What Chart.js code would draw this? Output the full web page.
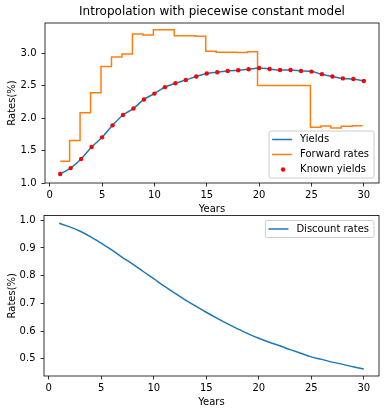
<!DOCTYPE html>
<html>
<head>
<meta charset="utf-8">
<script src="https://cdn.jsdelivr.net/npm/chart.js@4"></script>
<style>
  body { margin: 0; background: #fff; }
  canvas { display: block; }
</style>
</head>
<body>
<canvas id="top" width="386" height="214"></canvas>
<canvas id="bottom" width="386" height="200"></canvas>
<script>
// ---- data ----
const years = [1, 2, 3, 4, 5, 6, 7, 8, 9, 10, 11, 12, 13, 14, 15,
               16, 17, 18, 19, 20, 21, 22, 23, 24, 25, 26, 27, 28, 29, 30];
const yields = [1.14, 1.23, 1.37, 1.555, 1.705, 1.89, 2.05, 2.15, 2.29, 2.38,
                2.48, 2.54, 2.59, 2.645, 2.69, 2.71, 2.73, 2.74, 2.755, 2.775,
                2.76, 2.745, 2.745, 2.73, 2.72, 2.68, 2.645, 2.615, 2.605, 2.575];
// forward rates: start of each flat piece and its level
const fwdStart = [1, 1.9, 2.9, 3.9, 4.9, 5.9, 6.9, 7.9, 8.9, 9.9, 11.9, 13.9,
                  14.9, 15.9, 17.9, 18.9, 19.85, 24.9, 25.9, 26.85, 27.85, 28.9, 29.9];
const fwdRate  = [1.335, 1.655, 2.085, 2.395, 2.80, 2.945, 2.99, 3.30, 3.285, 3.365, 3.275, 3.265,
                  3.035, 3.02, 3.015, 3.025, 2.505, 1.86, 1.88, 1.85, 1.875, 1.885, 1.885];
const discount = [0.989, 0.976, 0.960, 0.940, 0.917, 0.893, 0.866, 0.842, 0.815, 0.789,
                  0.762, 0.737, 0.713, 0.690, 0.668, 0.647, 0.627, 0.608, 0.590, 0.574,
                  0.560, 0.547, 0.533, 0.520, 0.507, 0.498, 0.488, 0.480, 0.471, 0.463];
const xTicks = [0, 5, 10, 15, 20, 25, 30];
const yTicksTop = [1.0, 1.5, 2.0, 2.5, 3.0];
const yTicksBottom = [0.5, 0.6, 0.7, 0.8, 0.9, 1.0];

const BLUE = '#1f77b4', ORANGE = '#ff7f0e', RED = '#ff0000';
const FONT = 'DejaVu Sans';

Chart.defaults.font.family = FONT;
Chart.defaults.font.size = 10;
Chart.defaults.color = '#000';

const pts = (xs, ys) => xs.map((x, i) => ({ x, y: ys[i] }));

// matplotlib-like box around the axes
const frame = {
  id: 'frame',
  afterDatasetsDraw(chart) {
    const { ctx, chartArea: a } = chart;
    ctx.save();
    ctx.strokeStyle = '#000';
    ctx.lineWidth = 0.8;
    ctx.strokeRect(a.left, a.top, a.right - a.left, a.bottom - a.top);
    ctx.restore();
  }
};

// legend box inside the axes, drawn from the dataset labels
const boxLegend = {
  id: 'boxLegend',
  afterDatasetsDraw(chart, args, opts) {
    const { ctx, chartArea: a } = chart;
    const sets = opts.order.map(i => chart.data.datasets[i]);
    ctx.save();
    ctx.font = '10px ' + FONT;
    const tw = Math.max(...sets.map(d => ctx.measureText(d.label).width));
    const w = 4 + 20 + 8 + tw + 4, h = 8 + 9 + (sets.length - 1) * 15;
    const x = a.right - 5 - w;
    const y = opts.where === 'lower' ? a.bottom - 5 - h : a.top + 5;
    ctx.beginPath();
    ctx.roundRect(x, y, w, h, 2);
    ctx.fillStyle = 'rgba(255,255,255,0.8)';
    ctx.fill();
    ctx.strokeStyle = '#cccccc';
    ctx.lineWidth = 1;
    ctx.stroke();
    sets.forEach((d, i) => {
      const cy = y + 8.5 + i * 15;
      if (d.showLine === false) {
        ctx.beginPath();
        ctx.arc(x + 14, cy, 2.2, 0, Math.PI * 2);
        ctx.fillStyle = d.pointBackgroundColor;
        ctx.fill();
      } else {
        ctx.beginPath();
        ctx.moveTo(x + 3, cy);
        ctx.lineTo(x + 23, cy);
        ctx.strokeStyle = d.borderColor;
        ctx.lineWidth = 1.5;
        ctx.stroke();
      }
      ctx.fillStyle = '#000';
      ctx.textBaseline = 'middle';
      ctx.fillText(d.label, x + 31, cy);
    });
    ctx.restore();
  }
};

function scales(yMin, yMax, yTicks, axisW, xAxisH, xTitlePad) {
  const grid = { drawOnChartArea: false, drawTicks: true, tickLength: 3.5, color: '#000', lineWidth: 0.8 };
  return {
    x: {
      type: 'linear', min: -0.45, max: 31.45,
      border: { display: false },
      grid,
      afterBuildTicks: s => { s.ticks = xTicks.map(v => ({ value: v })); },
      ticks: { padding: 3, maxRotation: 0, callback: v => String(v) },
      title: { display: true, text: 'Years', font: { size: 10, lineHeight: 1 }, padding: { top: 0, bottom: xTitlePad } },
      afterFit: s => { s.height = xAxisH; s.paddingLeft = s.paddingRight = 0; }
    },
    y: {
      min: yMin, max: yMax,
      border: { display: false },
      grid,
      afterBuildTicks: s => { s.ticks = yTicks.map(v => ({ value: v })); },
      ticks: { padding: 5, callback: v => v.toFixed(1) },
      title: { display: true, text: 'Rates(%)', font: { size: 10, lineHeight: 1 }, padding: { top: 7, bottom: 0 } },
      afterFit: s => { s.width = axisW; s.paddingTop = s.paddingBottom = 0; }
    }
  };
}

new Chart(document.getElementById('top'), {
  type: 'line',
  data: {
    datasets: [
      { label: 'Yields', data: pts(years, yields), borderColor: BLUE, borderWidth: 1.5,
        pointRadius: 0, cubicInterpolationMode: 'monotone', order: 1 },
      { label: 'Forward rates', data: pts(fwdStart, fwdRate), borderColor: ORANGE, borderWidth: 1.5,
        pointRadius: 0, stepped: true, order: 2 },
      { label: 'Known yields', data: pts(years, yields), showLine: false,
        pointRadius: 2.2, pointBorderWidth: 0, pointBackgroundColor: RED, pointBorderColor: RED, order: 0 }
    ]
  },
  options: {
    responsive: false, animation: false, devicePixelRatio: 1,
    layout: { padding: { left: 0, right: 7, top: 0, bottom: 0 } },
    plugins: {
      legend: { display: false },
      tooltip: { enabled: false },
      title: { display: true, fullSize: false, text: 'Intropolation with piecewise constant model',
               color: '#000', font: { size: 12, weight: 'normal', lineHeight: 1.2 }, padding: { top: 5, bottom: 3.6 } },
      boxLegend: { order: [0, 1, 2], where: 'lower' }
    },
    scales: scales(1.0, 3.47, yTicksTop, 45, 31, 0)
  },
  plugins: [frame, boxLegend]
});

new Chart(document.getElementById('bottom'), {
  type: 'line',
  data: {
    datasets: [
      { label: 'Discount rates', data: pts(years, discount), borderColor: BLUE, borderWidth: 1.5,
        pointRadius: 0, cubicInterpolationMode: 'monotone' }
    ]
  },
  options: {
    responsive: false, animation: false, devicePixelRatio: 1,
    layout: { padding: { left: 0, right: 7, top: 1.5, bottom: 0 } },
    plugins: {
      legend: { display: false },
      tooltip: { enabled: false },
      boxLegend: { order: [0], where: 'upper' }
    },
    scales: scales(0.438, 1.017, yTicksBottom, 44, 38, 7)
  },
  plugins: [frame, boxLegend]
});
</script>
</body>
</html>
